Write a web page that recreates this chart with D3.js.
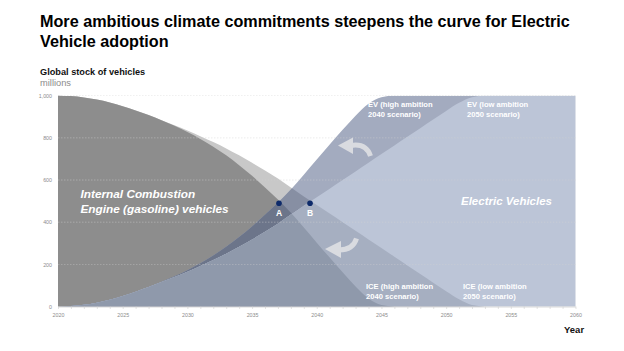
<!DOCTYPE html>
<html><head><meta charset="utf-8">
<script src="https://cdn.jsdelivr.net/npm/d3@7"></script>
<style>
body{margin:0;background:#fff;}
svg{display:block;font-family:"Liberation Sans",Arial,sans-serif;}
</style></head>
<body><svg id="c" width="624" height="351"></svg>
<script>
const years = d3.range(2020, 2061);
const evHigh = [0,2,8,18,32,50,70,92,117,143,172,205,242,283,330,380,435,492,555,625,697,768,838,905,962,993,1000,1000,1000,1000,1000,1000,1000,1000,1000,1000,1000,1000,1000,1000,1000];
const iceHigh = [1000,998,992,982,968,950,930,908,883,857,828,795,758,717,670,620,565,508,445,375,303,232,162,95,38,7,0,0,0,0,0,0,0,0,0,0,0,0,0,0,0];
const evLow = [0,2,8,18,32,50,70,92,116,140,165,192,220,250,283,318,355,393,436,478,518,559,600,641,682,723,764,805,846,887,928,966,993,1000,1000,1000,1000,1000,1000,1000,1000];
const iceLow = [1000,998,992,982,968,950,930,908,884,860,835,808,780,750,717,682,645,607,564,522,482,441,400,359,318,277,236,195,154,113,72,34,7,0,0,0,0,0,0,0,0];
const yTicks = [0,200,400,600,800,1000];
const xTicks = [2020,2025,2030,2035,2040,2045,2050,2055,2060];
const crossings = [{label:"A", year:2037.08, value:490},{label:"B", year:2039.48, value:490}];

const svg = d3.select("#c");
const x = d3.scaleLinear([2020,2060],[58,575.5]);
const y = d3.scaleLinear([0,1000],[306.5,95.7]);

const pts = arr => years.map((yr,i)=>({yr, v:arr[i]}));
const under = arr => d3.area().x(d=>x(d.yr)).y0(y(0)).y1(d=>y(d.v)).curve(d3.curveMonotoneX)(pts(arr));

// colours [iceLevel][evLevel]
const col = {
  "1,0":"#c8c8c8", "2,0":"#8d8d8d",
  "0,1":"#a3abbf", "1,1":"#878fa3", "2,1":"#6c758a",
  "0,2":"#bcc5d7", "1,2":"#a6afc1", "2,2":"#8f99ab"
};

const defs = svg.append("defs");
defs.append("clipPath").attr("id","evh").append("path").attr("d", under(evHigh));
defs.append("clipPath").attr("id","evl").append("path").attr("d", under(evLow));

const plot = svg.append("g");
const layers = [{clip:null, lvl:0},{clip:"evh", lvl:1},{clip:"evl", lvl:2}];
layers.forEach(L=>{
  const g = plot.append("g");
  if (L.clip) g.attr("clip-path", `url(#${L.clip})`);
  if (L.lvl>0) g.append("rect").attr("x",x(2020)).attr("y",y(1000)).attr("width",x(2060)-x(2020)).attr("height",y(0)-y(1000)).attr("fill",col[`0,${L.lvl}`]);
  g.append("path").attr("d", under(iceLow)).attr("fill", col[`1,${L.lvl}`]);
  g.append("path").attr("d", under(iceHigh)).attr("fill", col[`2,${L.lvl}`]);
});

// grid
svg.append("g").selectAll("line").data(yTicks.filter(d=>d>0)).join("line")
  .attr("x1",x(2020)).attr("x2",x(2060)).attr("y1",d=>y(d)).attr("y2",d=>y(d))
  .attr("stroke","#d4d4d4").attr("stroke-width",0.6).attr("stroke-dasharray","1.5,1.5").attr("opacity",0.7);

// axes
const xa = svg.append("g").attr("transform",`translate(0,${y(0)})`)
  .call(d3.axisBottom(x).tickValues(xTicks).tickFormat(d3.format("d")).tickSize(0).tickPadding(7));
xa.select(".domain").attr("stroke","#d0d0d0").attr("stroke-width",0.8);
xa.selectAll("text").attr("font-size",5.3).attr("fill","#8c8c8c").attr("font-family","Liberation Sans, Arial, sans-serif");
const xm = svg.append("g").attr("transform",`translate(0,${y(0)})`)
  .call(d3.axisBottom(x).tickValues(years).tickFormat("").tickSize(2.5));
xm.select(".domain").remove();
xm.selectAll("line").attr("stroke","#d0d0d0").attr("stroke-width",0.6);

const ya = svg.append("g").attr("transform",`translate(${x(2020)},0)`)
  .call(d3.axisLeft(y).tickValues(yTicks).tickFormat(d3.format(",")).tickSize(0).tickPadding(6));
ya.select(".domain").remove();
ya.selectAll("text").attr("font-size",5.3).attr("fill","#8c8c8c").attr("font-family","Liberation Sans, Arial, sans-serif");

// arrows
const arrowCol = "#d9dbe0";
svg.append("path").attr("d","M351,145.5 Q366,143 370.5,156").attr("fill","none").attr("stroke",arrowCol).attr("stroke-width",5);
svg.append("path").attr("d","M338,145.5 L353,137.5 L353,154 Z").attr("fill",arrowCol);
svg.append("path").attr("d","M339,250 Q353,250 356.5,238.5").attr("fill","none").attr("stroke",arrowCol).attr("stroke-width",5);
svg.append("path").attr("d","M325,249 L341,241 L341,258 Z").attr("fill",arrowCol);

// crossing points
const cg = svg.append("g").selectAll("g").data(crossings).join("g");
cg.append("circle").attr("cx",d=>x(d.year)).attr("cy",d=>y(d.value)).attr("r",2.8).attr("fill","#0d2a6a");
cg.append("text").attr("x",d=>x(d.year)).attr("y",d=>y(d.value)+12.5).attr("text-anchor","middle")
  .attr("font-size",8.5).attr("font-weight","bold").attr("fill","#fff").text(d=>d.label);

// text labels
function txt(xp, yp, lines, size, opts={}) {
  const t = svg.append("text").attr("x",xp).attr("y",yp).attr("font-size",size)
    .attr("font-weight",opts.weight||"bold").attr("fill",opts.fill||"#fff");
  if (opts.italic) t.attr("font-style","italic");
  lines.forEach((l,i)=>t.append("tspan").attr("x",xp).attr("dy", i? (opts.lh||size*1.2):0).text(l));
  return t;
}
txt(40, 27, ["More ambitious climate commitments steepens the curve for Electric","Vehicle adoption"], 16.2, {fill:"#000", lh:19.5});
txt(40, 75, ["Global stock of vehicles"], 9.2, {fill:"#111"});
txt(40, 86, ["millions"], 9.3, {fill:"#8c8c8c", weight:"normal"});
txt(80.5, 198, ["Internal Combustion","Engine (gasoline) vehicles"], 11.8, {italic:true, lh:15});
txt(461, 205, ["Electric Vehicles"], 11.5, {italic:true});
txt(368, 107, ["EV (high ambition","2040 scenario)"], 7.6, {lh:10});
txt(467, 107, ["EV (low ambition","2050 scenario)"], 7.6, {lh:10});
txt(366, 289, ["ICE (high ambition","2040 scenario)"], 7.6, {lh:10});
txt(463, 289, ["ICE (low ambition","2050 scenario)"], 7.6, {lh:10});
txt(564, 333, ["Year"], 9.5, {fill:"#111"});
</script></body></html>
